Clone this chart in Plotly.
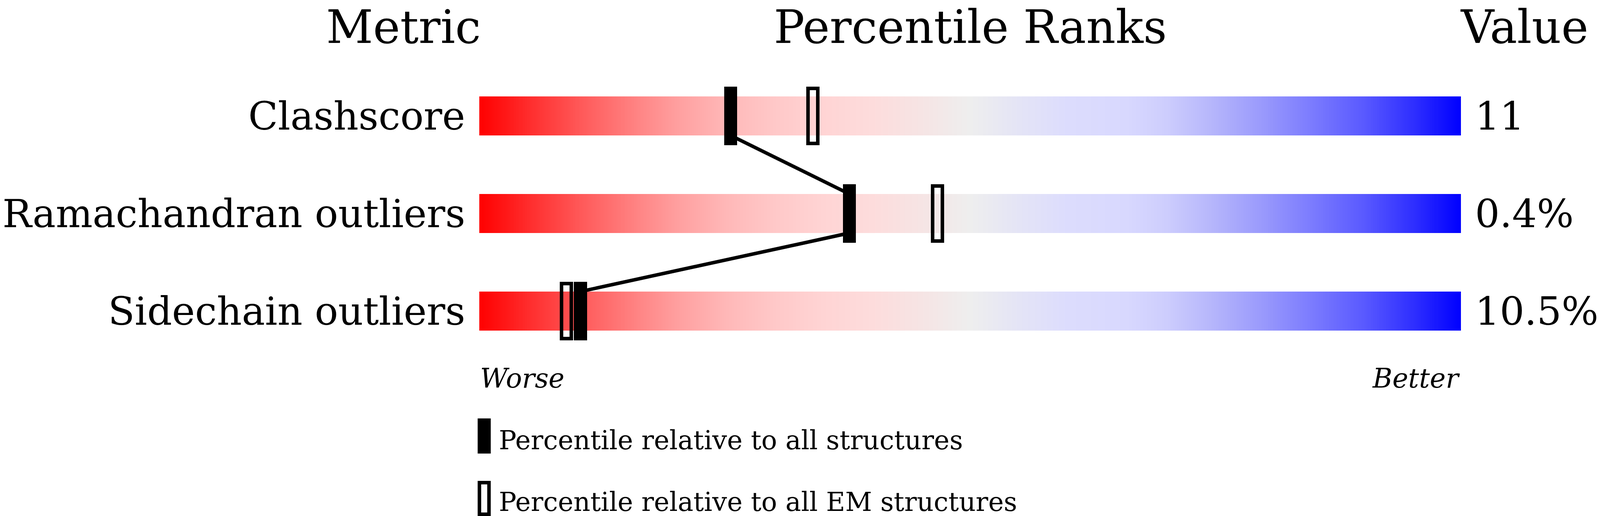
"""Percentile-rank slider chart (validation style): gradient bars, percentile markers, values."""
import numpy as np
import plotly.graph_objects as go

# ---- data ----
METRICS = ["Clashscore", "Ramachandran outliers", "Sidechain outliers"]
VALUES = ["11", "0.4%", "10.5%"]
PCT_ALL = [25.6, 37.7, 10.3]   # percentile relative to all structures
PCT_EM = [34.0, 46.7, 8.9]     # percentile relative to all EM structures
HEADERS = ["Metric", "Percentile Ranks", "Value"]
END_LABELS = ["Worse", "Better"]
LEGEND_TEXT = ["Percentile relative to all structures",
               "Percentile relative to all EM structures"]

# red -> grey -> blue slider gradient
GRADIENT = [
    [0.00, "#ff0000"], [0.05, "#ff2c2c"], [0.10, "#ff5656"], [0.15, "#ff7c7c"],
    [0.20, "#ff9e9e"], [0.25, "#ffb7b7"], [0.30, "#ffc8c8"], [0.35, "#ffd4d4"],
    [0.40, "#fddcdc"], [0.45, "#f6e4e4"], [0.50, "#eeeeee"], [0.55, "#e4e4f6"],
    [0.60, "#dcdcfd"], [0.66, "#d8d8fe"], [0.70, "#cdcdfd"], [0.75, "#b4b4fb"],
    [0.80, "#9898fc"], [0.85, "#7a7afe"], [0.90, "#5a5aff"], [0.95, "#3030ff"],
    [1.00, "#0000ff"],
]

# ---- geometry ----
# the browser viewport ends up 4096 css px wide (x 1322 high), with the default
# 8px body margin; reference positions are mapped into that box
VIEW_W, VIEW_H = 4096, 1322
REF_W = 4889
FX = VIEW_W / REF_W
BODY = 8


def sx(v):          # reference x -> figure px
    return v * FX - BODY


def sy(v):          # reference y -> figure px
    return v - BODY


W = VIEW_W - 2 * BODY
H = VIEW_H - BODY
ROW = 250                         # px per row unit
Y_RANGE = (-1.0, 2.8)
L = sx(1464)
R = W - sx(4464)
T = sy(297) - (0 - Y_RANGE[0]) * ROW
PLOT_H = (Y_RANGE[1] - Y_RANGE[0]) * ROW
B = H - T - PLOT_H
PLOT_W = W - L - R

BAR_H = 100 / ROW
MARK_H = 150 / ROW
MARK_W = 40 * FX / PLOT_W * 100
STROKE = 9

SERIF = "DejaVu Serif"
F_HEAD = 140 * FX
F_LABEL = 99.5
F_SMALL = 80 * FX


def px(v):
    return (v - L) / PLOT_W


def py(v):
    return (T + PLOT_H - v) / PLOT_H


n = len(METRICS)
rows = list(range(n))

fig = go.Figure()

# gradient bars: one heatmap, gaps between rows left as NaN
x_edges = np.linspace(0, 100, 1001)
x_mid = (x_edges[:-1] + x_edges[1:]) / 2
y_edges, z = [], []
for i in rows:
    y_edges += [i - BAR_H / 2, i + BAR_H / 2]
    z.append(x_mid)
    if i < n - 1:
        z.append(np.full_like(x_mid, np.nan))
fig.add_trace(go.Heatmap(
    x=x_edges, y=y_edges, z=z, zmin=0, zmax=100,
    colorscale=GRADIENT, showscale=False, hoverinfo="skip",
))

# filled markers (all structures)
fig.add_trace(go.Bar(
    x=PCT_ALL, y=[MARK_H] * n, base=[i - MARK_H / 2 for i in rows],
    width=MARK_W, marker=dict(color="black", line=dict(width=0)),
    hoverinfo="skip", showlegend=False,
))
# open markers (EM structures)
stroke_u_x = STROKE / PLOT_W * 100
stroke_u_y = STROKE / ROW
fig.add_trace(go.Bar(
    x=PCT_EM, y=[MARK_H - stroke_u_y] * n,
    base=[i - (MARK_H - stroke_u_y) / 2 for i in rows],
    width=MARK_W - stroke_u_x,
    marker=dict(color="rgba(0,0,0,0)", line=dict(width=STROKE, color="black")),
    hoverinfo="skip", showlegend=False,
))

# connecting line: bottom of one bar at its marker to the top of the next
# (sits on the right-hand axis so that the value labels get drawn)
lx, ly = [], []
for i in rows:
    lx += [PCT_ALL[i], PCT_ALL[i]]
    ly += [i - BAR_H / 2, i + BAR_H / 2]
fig.add_trace(go.Scatter(
    x=lx[1:-1], y=ly[1:-1], yaxis="y2", mode="lines",
    line=dict(color="black", width=9), hoverinfo="skip", showlegend=False,
))

# ---- text ----
head_y = py(sy(70))
fig.add_annotation(text=HEADERS[0], xref="paper", yref="paper",
                   x=px(sx(1464) + 6), y=head_y, xanchor="right", yanchor="middle",
                   showarrow=False, font=dict(family=SERIF, size=F_HEAD, color="black"))
fig.add_annotation(text=HEADERS[1], xref="paper", yref="paper",
                   x=0.5, y=head_y, xanchor="center", yanchor="middle",
                   showarrow=False, font=dict(family=SERIF, size=F_HEAD, color="black"))
fig.add_annotation(text=HEADERS[2], xref="paper", yref="paper",
                   x=px(sx(4462) - 2), y=head_y, xanchor="left", yanchor="middle",
                   showarrow=False, font=dict(family=SERIF, size=F_HEAD, color="black"))

end_y = py(sy(969))
fig.add_annotation(text=f"<i>{END_LABELS[0]}</i>", xref="paper", yref="paper",
                   x=0, y=end_y, xanchor="left", yanchor="middle", showarrow=False,
                   font=dict(family=SERIF, size=82 * FX, color="black"))
fig.add_annotation(text=f"<i>{END_LABELS[1]}</i>", xref="paper", yref="paper",
                   x=1, y=end_y, xanchor="right", yanchor="middle", showarrow=False,
                   font=dict(family=SERIF, size=82 * FX, color="black"))

# legend
leg_boxes = [(1072, 1162), (1232, 1322)]
leg_text_y = [1128, 1286]
for k, ((y0, y1), ty, txt) in enumerate(zip(leg_boxes, leg_text_y, LEGEND_TEXT)):
    if k == 0:
        fig.add_shape(type="rect", xref="paper", yref="paper",
                      x0=px(sx(1459)), x1=px(sx(1499)),
                      y0=py(sy(y1)), y1=py(sy(y0)),
                      fillcolor="black", line=dict(width=0))
    else:
        h = STROKE / 2
        fig.add_shape(type="rect", xref="paper", yref="paper",
                      x0=px(sx(1459) + h), x1=px(sx(1499) - h),
                      y0=py(sy(y1) - h), y1=py(sy(y0) + h),
                      fillcolor="rgba(0,0,0,0)", line=dict(width=STROKE, color="black"))
    fig.add_annotation(text=txt, xref="paper", yref="paper",
                       x=px(sx(1528) - 6), y=py(sy(ty)),
                       xanchor="left", yanchor="middle", showarrow=False,
                       font=dict(family=SERIF, size=F_SMALL, color="black"))

axis_common = dict(
    range=[Y_RANGE[1], Y_RANGE[0]], tickmode="array", tickvals=rows,
    showgrid=False, zeroline=False, showline=False, ticks="",
    tickfont=dict(family=SERIF, size=F_LABEL, color="black"),
    ticklabelstandoff=35, fixedrange=True,
)

fig.update_layout(
    width=W, height=H,
    margin=dict(l=L, r=R, t=T, b=B, pad=0, autoexpand=False),
    paper_bgcolor="white", plot_bgcolor="white",
    barmode="overlay", bargap=0, showlegend=False, hovermode=False,
    xaxis=dict(range=[0, 100], visible=False, fixedrange=True),
    yaxis=dict(ticktext=METRICS, side="left", **axis_common),
    yaxis2=dict(ticktext=VALUES, side="right", overlaying="y", **axis_common),
)

fig.write_html("out.html")
